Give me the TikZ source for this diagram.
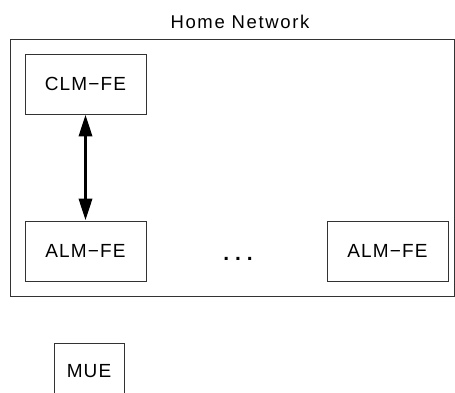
\documentclass[tikz,border=0pt]{standalone}
\usepackage{fontspec}
\setmainfont{Liberation Sans}
\usetikzlibrary{arrows.meta}
\begin{document}
\begin{tikzpicture}[x=1pt,y=-1pt,
  box/.style={draw=black!80,line width=0.9pt,minimum width=121pt,minimum height=60pt,inner sep=0pt,font=\fontsize{19}{22}\selectfont\addfontfeature{LetterSpace=6}},
  lbl/.style={font=\fontsize{18.5}{22}\selectfont\addfontfeature{LetterSpace=9}},
  bigarrow/.style={line width=3.5pt,>={Triangle[length=22pt,width=13pt]},<->}]
\useasboundingbox (0,0) rectangle (455,392);
\clip (0,0) rectangle (455,392);
\node[lbl] (title) at (240,22) {Home Network};
\draw[draw=black!80,line width=0.9pt] (10,39) rectangle (454,296);
\node[box] (clm) at (85.5,84) {CLM−FE};
\node[box] (alm1) at (85.5,251) {ALM−FE};
\node[box] (alm2) at (387.5,251) {ALM−FE};
\node[font=\fontsize{21}{22}\selectfont\bfseries,inner sep=0pt] (dots) at (238,259) {.\hspace{6pt}.\hspace{6pt}.};
\node[box,minimum width=70pt,minimum height=56pt] (mue) at (89,371) {MUE};
\draw[bigarrow] (clm.south) -- (alm1.north);
\end{tikzpicture}
\end{document}
